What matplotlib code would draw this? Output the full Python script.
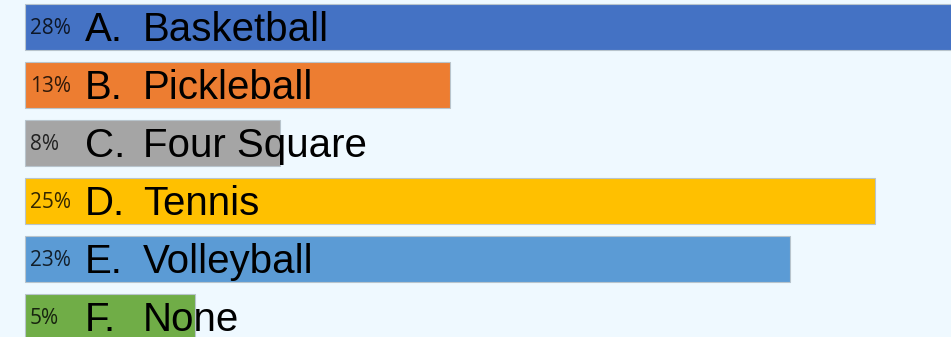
import matplotlib
matplotlib.use('Agg')
import matplotlib.pyplot as plt

letters = ['A.', 'B.', 'C.', 'D.', 'E.', 'F.']
options = ['Basketball', 'Pickleball', 'Four Square', 'Tennis', 'Volleyball', 'None']
pct_labels = ['28%', '13%', '8%', '25%', '23%', '5%']
values = [28.0, 12.5, 7.5, 25.0, 22.5, 5.0]
colors = ['#4472C4', '#ED7D31', '#A5A5A5', '#FFC000', '#5B9BD5', '#70AD47']

W, H = 951, 337
fig = plt.figure(figsize=(W / 100, H / 100), dpi=100)
fig.patch.set_facecolor('#EFF9FF')
ax = fig.add_axes([0, 0, 1, 1])
ax.set_facecolor('#EFF9FF')

px_per_unit = 34.0
left_px = 25
ax.set_xlim(-left_px / px_per_unit, (W - left_px) / px_per_unit)
ax.set_ylim(-27 / 58, (H - 27) / 58)
ax.invert_yaxis()

ys = list(range(len(values)))
ax.barh(ys, values, height=46 / 58, color=colors, edgecolor='#B8C4CC', linewidth=0.8)

tr = ax.get_yaxis_transform()
for y, pct, let, name in zip(ys, pct_labels, letters, options):
    ax.text(30 / W, y + 7 / 58, pct, transform=tr, fontsize=15, family='Open Sans',
            color='black', alpha=0.8, va='baseline', ha='left')
    ax.text(85 / W, y + 14 / 58, let, transform=tr, fontsize=29, family='Liberation Sans',
            color='black', va='baseline', ha='left')
    ax.text(143 / W, y + 14 / 58, name, transform=tr, fontsize=29, family='Liberation Sans',
            color='black', va='baseline', ha='left')

ax.axis('off')
fig.savefig('out.png', dpi=100, facecolor=fig.get_facecolor())
